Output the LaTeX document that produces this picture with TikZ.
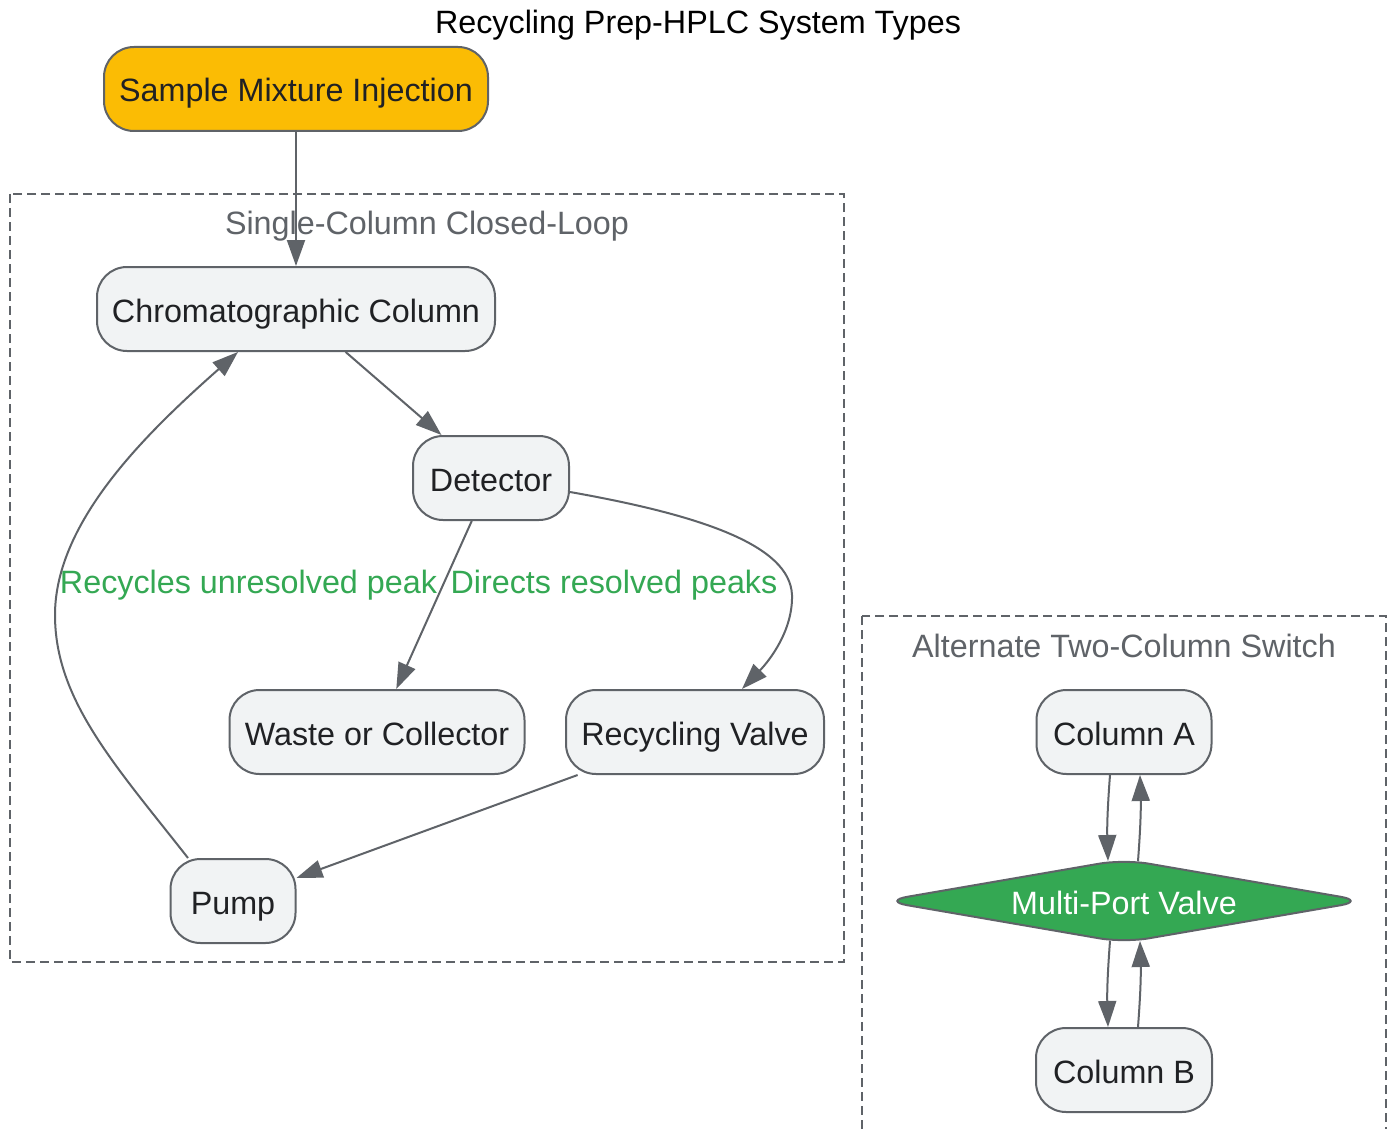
\documentclass[tikz,border=0pt]{standalone}
\usepackage{fontspec}
\setmainfont{Liberation Sans}
\usetikzlibrary{arrows.meta,shapes.geometric,calc}
\definecolor{edgegray}{HTML}{5F6368}
\definecolor{nodefill}{HTML}{F1F3F4}
\definecolor{txtdark}{HTML}{202124}
\definecolor{gold}{HTML}{FBBC04}
\definecolor{ggreen}{HTML}{34A853}
\begin{document}
\begin{tikzpicture}[x=1pt,y=-1pt,
  font=\fontsize{32.3}{38}\selectfont,
  every node/.style={text height=30pt, text depth=4pt},
  box/.style={draw=edgegray, line width=2pt, fill=nodefill, rounded corners=30pt,
    text=txtdark, minimum height=84pt, inner sep=0pt},
  cluster/.style={draw=edgegray, line width=2pt, dash pattern=on 9pt off 5pt},
  clabel/.style={text=edgegray, inner sep=0pt},
  elabel/.style={text=ggreen, inner sep=0pt},
  conn/.style={draw=edgegray, line width=2pt, -{Triangle[length=26pt,width=18pt]}}]
\clip (0,0) rectangle (1393,1129);
\fill[white] (0,0) rectangle (1393,1129);

% title
\node[inner sep=0pt, text=black] (title) at (698,20.3) {Recycling Prep-HPLC System Types};

% clusters
\draw[cluster] (10,194) rectangle (844,962);
\node[clabel] (c1label) at (427,221) {Single-Column Closed-Loop};
\draw[cluster] (862,616) rectangle (1386,1160);
\node[clabel] (c2label) at (1124,644.6) {Alternate Two-Column Switch};

% nodes
\node[box, fill=gold, minimum width=384pt] (sample) at (296,89) {Sample Mixture Injection};
\node[box, minimum width=398pt] (chrom) at (296,309) {Chromatographic Column};
\node[box, minimum width=156pt] (det) at (491,478) {Detector};
\node[box, minimum width=295pt] (waste) at (377,732) {Waste or Collector};
\node[box, minimum width=258pt] (valve) at (695,732) {Recycling Valve};
\node[box, minimum width=125pt] (pump) at (233,901) {Pump};

\node[box, minimum width=175pt] (colA) at (1124,732) {Column A};
\node[diamond, aspect=5.75, minimum width=483pt, minimum height=84pt, inner sep=0pt,
  fill=ggreen, draw=edgegray, line width=2pt, rounded corners=25pt, text=white]
  (mpv) at (1124,901) {Multi-Port Valve};
\node[box, minimum width=176pt] (colB) at (1124,1070) {Column B};

% edge labels
\node[elabel] (lab1) at (248.5,580) {Recycles unresolved peak};
\node[elabel] (lab2) at (614,580) {Directs resolved peaks};

% edges
\draw[conn] (sample) -- (chrom);
\draw[conn] (chrom) -- (det);
\draw[conn] (det) -- (waste);
\draw[conn] ([yshift=-14pt]det.east) .. controls (700,515) and (790,545) .. (792,595)
  .. controls (793,630) and (770,660) .. ([xshift=47pt]valve.north);
\draw[conn] (valve) -- (pump);
\draw[conn] ([xshift=-45pt]pump.north) .. controls (115,765) and (55,700) .. (55,615)
  .. controls (55,520) and (150,430) .. ([xshift=-58pt]chrom.south);

\draw[conn] ([xshift=-14pt]colA.south) to[bend right=3] ([xshift=-16pt,yshift=-3pt]mpv.north);
\draw[conn] ([xshift=14pt,yshift=-3pt]mpv.north) to[bend right=3] ([xshift=16pt]colA.south);
\draw[conn] ([xshift=-14pt,yshift=3pt]mpv.south) to[bend right=3] ([xshift=-16pt]colB.north);
\draw[conn] ([xshift=14pt]colB.north) to[bend right=3] ([xshift=16pt,yshift=3pt]mpv.south);
\end{tikzpicture}
\end{document}
